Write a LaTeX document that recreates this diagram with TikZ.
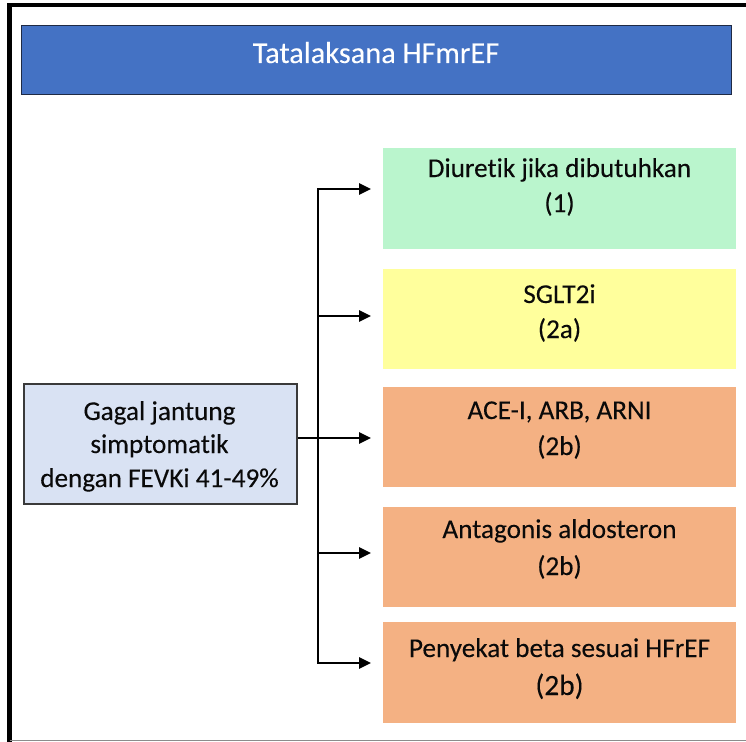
\documentclass[tikz,border=0pt]{standalone}
\usepackage{fontspec}
\setmainfont{Carlito}[Ligatures={NoCommon,NoRequired,NoContextual}, FakeBold=0.12]
\usetikzlibrary{arrows.meta}
\definecolor{titleblue}{HTML}{4472C4}
\definecolor{titleborder}{HTML}{1F2A44}
\definecolor{leftfill}{HTML}{D9E2F3}
\definecolor{leftborder}{HTML}{3A3A3A}
\definecolor{greenc}{HTML}{BAF5CD}
\definecolor{yellowc}{HTML}{FFFF9C}
\definecolor{orangec}{HTML}{F4B183}
\definecolor{txt}{HTML}{0A0A0A}
\begin{document}
\begin{tikzpicture}[x=1bp,y=-1bp,
  box/.style={rectangle, draw=none, inner sep=0, minimum width=353bp, minimum height=100bp, anchor=north west},
  lbl/.style={anchor=base, text=txt, font=\fontsize{27.3}{32}\selectfont, inner sep=0},
  conn/.style={line width=2.7bp, draw=black, line join=miter},
  tip/.style={-{Triangle[length=12bp,width=11bp]}},
  tips/.style={{Triangle[length=12bp,width=11bp]}-{Triangle[length=12bp,width=11bp]}}]
\useasboundingbox (0,0) rectangle (746,742);
% frame
\draw[line width=4.6bp, black, line join=miter] (746,5) -- (9.7,5) -- (9.7,742);
\draw[line width=1bp, black!45] (9.7,740.5) -- (746,740.5);
% title
\node[rectangle, draw=titleborder, line width=1.2bp, fill=titleblue, inner sep=0,
      minimum width=710bp, minimum height=69bp, anchor=north west] (title) at (21,25) {};
\node[lbl, text=white, font=\fontsize{30.5}{36}\selectfont] (titletext) at (376,63) {Tatalaksana HFmrEF};
% left box
\node[rectangle, draw=leftborder, line width=1.5bp, fill=leftfill, inner sep=0,
      minimum width=273bp, minimum height=120bp, anchor=north west] (left) at (23,383) {};
\node[lbl] (l1) at (159.5,420) {Gagal jantung};
\node[lbl] (l2) at (159.5,453) {simptomatik};
\node[lbl] (l3) at (159.5,487) {dengan FEVKi 41-49\%};
% right boxes
\node[box, fill=greenc, minimum height=101bp] (b1) at (383,148) {};
\node[box, fill=yellowc] (b2) at (383,269) {};
\node[box, fill=orangec] (b3) at (383,387) {};
\node[box, fill=orangec] (b4) at (383,507) {};
\node[box, fill=orangec, minimum height=101bp] (b5) at (383,622) {};
\node[lbl] (t1a) at (559.5,177) {Diuretik jika dibutuhkan};
\node[lbl] (t1b) at (559.5,212) {(1)};
\node[lbl] (t2a) at (559.5,303) {SGLT2i};
\node[lbl] (t2b) at (559.5,338) {(2a)};
\node[lbl] (t3a) at (559.5,419) {ACE-I, ARB, ARNI};
\node[lbl] (t3b) at (559.5,455) {(2b)};
\node[lbl] (t4a) at (559.5,538) {Antagonis aldosteron};
\node[lbl] (t4b) at (559.5,575) {(2b)};
\node[lbl] (t5a) at (559.5,657) {Penyekat beta sesuai HFrEF};
\node[lbl, font=\fontsize{29.5}{34}\selectfont] (t5b) at (559.5,695) {(2b)};
% connectors
\coordinate (j1) at (318,189);
\coordinate (j2) at (318,316);
\coordinate (j3) at (318,438);
\coordinate (j4) at (318,553);
\coordinate (j5) at (318,663);
\draw[conn, tips, shorten <=12bp, shorten >=12bp] (j1 -| b1.west) -- (j1) -- (j5) -- (j5 -| b5.west);
\draw[conn, tip, shorten >=12bp] (j2) -- (j2 -| b2.west);
\draw[conn, tip, shorten >=12bp] (j3 -| left.east) -- (j3 -| b3.west);
\draw[conn, tip, shorten >=12bp] (j4) -- (j4 -| b4.west);
\end{tikzpicture}
\end{document}
